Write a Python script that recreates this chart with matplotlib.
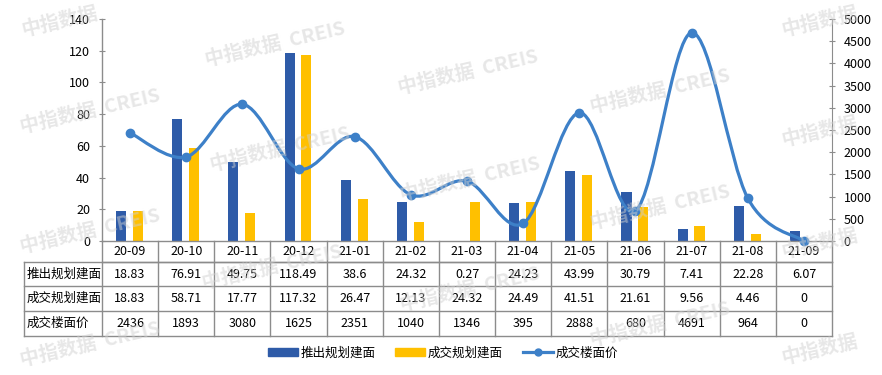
import matplotlib
matplotlib.use("Agg")
import matplotlib.pyplot as plt
import numpy as np
from matplotlib.path import Path
from matplotlib.patches import PathPatch
from matplotlib.lines import Line2D
from matplotlib.patches import Patch
from matplotlib.transforms import blended_transform_factory

plt.rcParams['font.family'] = ['Noto Sans CJK SC', 'DejaVu Sans']

months = ['20-09', '20-10', '20-11', '20-12', '21-01', '21-02', '21-03',
          '21-04', '21-05', '21-06', '21-07', '21-08', '21-09']
launched = [18.83, 76.91, 49.75, 118.49, 38.6, 24.32, 0.27, 24.23, 43.99, 30.79, 7.41, 22.28, 6.07]
sold = [18.83, 58.71, 17.77, 117.32, 26.47, 12.13, 24.32, 24.49, 41.51, 21.61, 9.56, 4.46, 0]
price = [2436, 1893, 3080, 1625, 2351, 1040, 1346, 395, 2888, 680, 4691, 964, 0]

launched_txt = ['18.83', '76.91', '49.75', '118.49', '38.6', '24.32', '0.27', '24.23',
                '43.99', '30.79', '7.41', '22.28', '6.07']
sold_txt = ['18.83', '58.71', '17.77', '117.32', '26.47', '12.13', '24.32', '24.49',
            '41.51', '21.61', '9.56', '4.46', '0']
price_txt = [str(v) for v in price]

row_names = ['推出规划建面', '成交规划建面', '成交楼面价']

blue = '#2E5BA8'
yellow = '#FFC000'
line_col = '#3D80C8'
grid_col = '#8C8C8C'

W, H = 882, 375
fig = plt.figure(figsize=(W / 100, H / 100), dpi=100)
ax_l, ax_r, ax_t, ax_b = 102, 832, 19, 241
ax = fig.add_axes([ax_l / W, 1 - ax_b / H, (ax_r - ax_l) / W, (ax_b - ax_t) / H])

x = np.arange(len(months))
ax.bar(x - 0.16, launched, width=0.18, color=blue, zorder=2)
ax.bar(x + 0.14, sold, width=0.18, color=yellow, zorder=2)
ax.set_xlim(-0.5, len(months) - 0.5)
ax.set_ylim(0, 140)
ax.set_yticks(range(0, 141, 20))
ax.set_xticks([])
for s in ['top', 'right']:
    ax.spines[s].set_visible(False)
for s in ['left', 'bottom']:
    ax.spines[s].set_color(grid_col)
    ax.spines[s].set_linewidth(1)
ax.tick_params(axis='y', labelsize=9, direction='inout', length=5, color=grid_col, pad=6)

ax2 = ax.twinx()
ax2.set_ylim(0, 5000)
ax2.set_yticks(range(0, 5001, 500))
for s in ['top', 'left', 'bottom']:
    ax2.spines[s].set_visible(False)
ax2.spines['right'].set_color(grid_col)
ax2.tick_params(axis='y', labelsize=9, direction='inout', length=5, color=grid_col, pad=6)

# smooth (Catmull-Rom) line through the price points
pts = np.column_stack([x, price]).astype(float)
ext = np.vstack([pts[0], pts, pts[-1]])
verts = [tuple(pts[0])]
codes = [Path.MOVETO]
for i in range(len(pts) - 1):
    p0, p1, p2, p3 = ext[i], ext[i + 1], ext[i + 2], ext[i + 3]
    c1 = p1 + (p2 - p0) / 6
    c2 = p2 - (p3 - p1) / 6
    verts += [tuple(c1), tuple(c2), tuple(p2)]
    codes += [Path.CURVE4] * 3
ax2.add_patch(PathPatch(Path(verts, codes), fill=False, edgecolor=line_col, lw=2.3,
                        zorder=3, clip_on=False))
ax2.plot(x, price, 'o', color=line_col, ms=6, zorder=4, clip_on=False)

# data table below the plot
tr = blended_transform_factory(ax.transData, fig.transFigure)
def fy(p):
    return 1 - p / H

rows_y = [241, 262, 286, 311, 336]
xl_tab = 23.5
line_kw = dict(color=grid_col, lw=1)
# horizontal lines
fig.add_artist(Line2D([ax_l / W, ax_r / W], [fy(262), fy(262)], transform=fig.transFigure, **line_kw))
for yy in rows_y[1:]:
    fig.add_artist(Line2D([xl_tab / W, ax_r / W], [fy(yy), fy(yy)], transform=fig.transFigure, **line_kw))
# vertical lines
for b in np.arange(-0.5, len(months), 1.0):
    fig.add_artist(Line2D([b, b], [fy(241), fy(336)], transform=tr, **line_kw))
fig.add_artist(Line2D([xl_tab / W, xl_tab / W], [fy(262), fy(336)], transform=fig.transFigure, **line_kw))

for i, m in enumerate(months):
    fig.text(i, fy(251.5), m, transform=tr, ha='center', va='center', fontsize=9)
for r, vals in enumerate([launched_txt, sold_txt, price_txt]):
    yc = (rows_y[r + 1] + rows_y[r + 2]) / 2
    fig.text((xl_tab + 3) / W, fy(yc), row_names[r], ha='left', va='center', fontsize=9)
    for i, v in enumerate(vals):
        fig.text(i, fy(yc), v, transform=tr, ha='center', va='center', fontsize=9)

# legend
handles = [Patch(color=blue), Patch(color=yellow),
           Line2D([], [], color=line_col, lw=2.3, marker='o', ms=5)]
fig.legend(handles, row_names, loc='center', bbox_to_anchor=(0.502, fy(353)), ncol=3,
           frameon=False, fontsize=9, handlelength=2.4, handleheight=0.6,
           handletextpad=0.2, columnspacing=1.6)

# watermarks
wm = [(275, 45), (468, 73), (660, 92),
      (90, 112), (280, 150), (470, 180), (660, 208),
      (90, 232), (272, 268), (470, 290), (660, 325),
      (90, 345)]
for px, py in wm:
    fig.text(px / W, fy(py), '中指数据  CREIS', ha='center', va='center', fontsize=14,
             color='#D0D0D0', alpha=0.5, rotation=13, fontweight='bold', zorder=10)
# edge watermarks only show the Chinese part
for px, py in [(60, 22), (820, 22), (820, 132), (820, 244), (820, 350)]:
    fig.text(px / W, fy(py), '中指数据', ha='center', va='center', fontsize=14,
             color='#D0D0D0', alpha=0.5, rotation=13, fontweight='bold', zorder=10)

fig.savefig('out.png', dpi=100)
